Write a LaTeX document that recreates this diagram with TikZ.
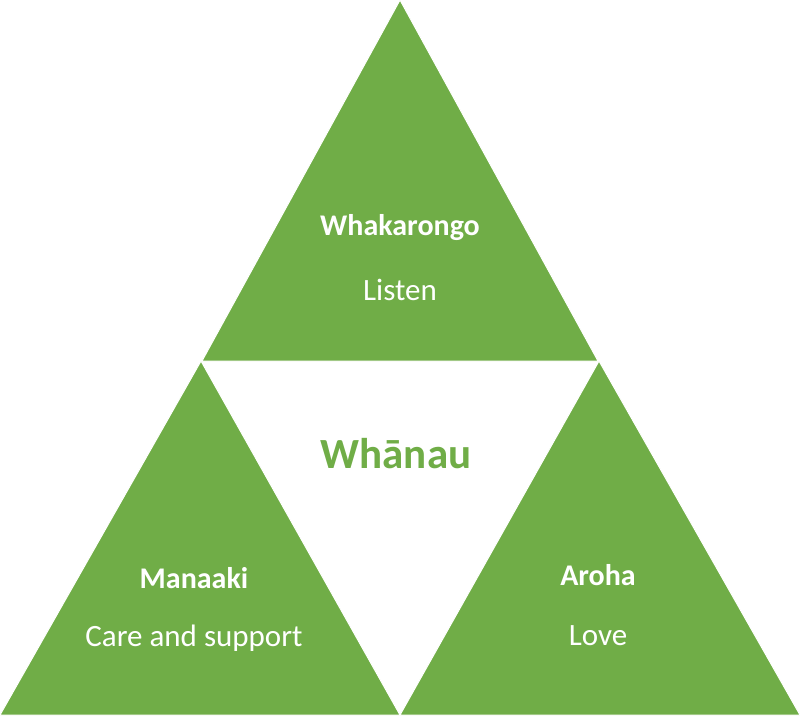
\documentclass[tikz,border=0pt]{standalone}
\usepackage{fontspec}
\setmainfont{Carlito}
\definecolor{grn}{HTML}{70AD47}
\begin{document}
\begin{tikzpicture}[x=1pt,y=-1pt,
  tri/.style={fill=grn,draw=white,line width=1pt},
  head/.style={text=white,font=\fontsize{30}{34}\selectfont\bfseries},
  sub/.style={text=white,font=\fontsize{31}{34}\selectfont}]
\useasboundingbox (0,0) rectangle (800,715);
\fill[tri] (400,0) -- (598,361) -- (202,361) -- cycle;
\fill[tri] (201,361) -- (400,715) -- (0,715) -- cycle;
\fill[tri] (599,361) -- (800,715) -- (400,715) -- cycle;
\node[head] (t1) at (400,228) {Whakarongo};
\node[sub] (t2) at (400,290) {Listen};
\node[text=grn,font=\fontsize{43}{48}\selectfont\bfseries] (c) at (396,454) {Whānau};
\node[head] (l1) at (194,578) {Manaaki};
\node[sub] (l2) at (194,638) {Care and support};
\node[head] (r1) at (598,575) {Aroha};
\node[sub] (r2) at (598,636) {Love};
\end{tikzpicture}
\end{document}
